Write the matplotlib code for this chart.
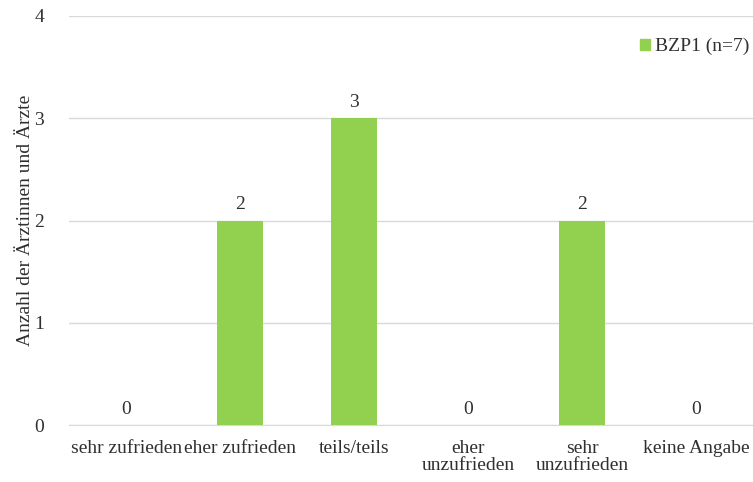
import matplotlib
matplotlib.use("Agg")
import matplotlib.pyplot as plt
from matplotlib.patches import Patch

categories = ["sehr zufrieden", "eher zufrieden", "teils/teils",
              "eher\nunzufrieden", "sehr\nunzufrieden", "keine Angabe"]
values = [0, 2, 3, 0, 2, 0]
series_name = "BZP1 (n=7)"
y_ticks = [0, 1, 2, 3, 4]

plt.rcParams["font.family"] = ["Liberation Serif", "DejaVu Serif"]
bar_color = "#92d050"
text_color = "#303030"
fs = 14

fig = plt.figure(figsize=(7.53, 4.82), dpi=100)
ax = fig.add_axes([0.092, 0.118, 0.908, 0.849])

x = list(range(len(categories)))
ax.bar(x, values, width=0.4, color=bar_color, zorder=3)
for xi, v in zip(x, values):
    ax.annotate(str(v), (xi, v), xytext=(0, 8), textcoords="offset points",
                ha="center", va="baseline", fontsize=fs, color=text_color)

ax.set_xlim(-0.5, len(categories) - 0.5)
ax.set_ylim(0, 4)
ax.set_yticks(y_ticks)
ax.set_xticks(x)
ax.set_xticklabels(categories, fontsize=fs, color=text_color, linespacing=0.95)
ax.tick_params(axis="y", labelsize=fs, colors=text_color, length=0, pad=18)
ax.tick_params(axis="x", length=0, pad=11)
ax.yaxis.grid(True, color="#d9d9d9", linewidth=1, zorder=0)
for s in ["top", "right", "left"]:
    ax.spines[s].set_visible(False)
ax.spines["bottom"].set_color("#d9d9d9")
ax.set_ylabel("Anzahl der Ärztinnen und Ärzte", fontsize=fs, color=text_color, labelpad=0)

ax.legend(handles=[Patch(color=bar_color, label=series_name)],
          loc="center right", bbox_to_anchor=(1.02, 0.925), frameon=False,
          fontsize=fs, handlelength=0.5, handleheight=0.5, handletextpad=0.25,
          labelcolor=text_color)

fig.savefig("out.png", dpi=100)
